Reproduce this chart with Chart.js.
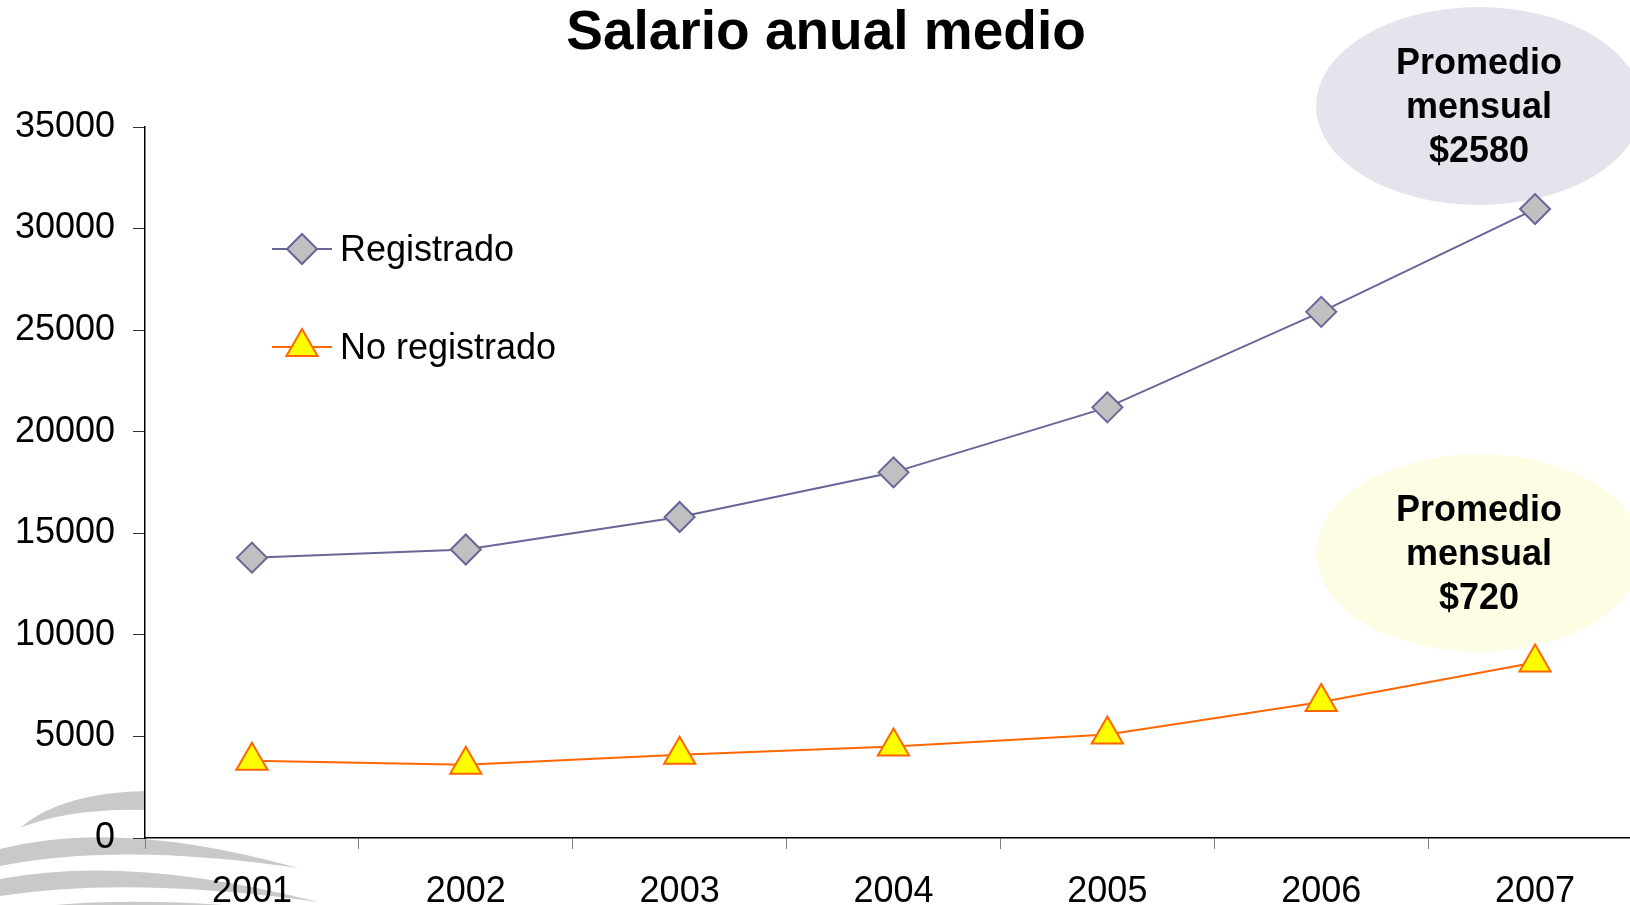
<!DOCTYPE html>
<html>
<head>
<meta charset="utf-8">
<script src="https://cdn.jsdelivr.net/npm/chart.js@4.4.1/dist/chart.umd.min.js"></script>
<style>
    html, body { margin: 0; padding: 0; background: #fff; overflow: hidden; }
    #wrap { position: relative; width: 1662px; height: 905px; }
</style>
</head>
<body>
<div id="wrap"><canvas id="chart"></canvas></div>
<script>
// Datos
const years = ['2001', '2002', '2003', '2004', '2005', '2006', '2007'];
const registrado = [13800, 14200, 15800, 18000, 21200, 25900, 30960];
const noRegistrado = [3800, 3600, 4100, 4500, 5100, 6700, 8640];
const seriesNames = ['Registrado', 'No registrado'];
const titleText = 'Salario anual medio';
const notaRegistrado = ['Promedio', 'mensual', '$2580'];
const notaNoRegistrado = ['Promedio', 'mensual', '$720'];

const FONT = '"Liberation Sans", Arial, sans-serif';

function drawMarker(ctx, style, x, y, r, fill, stroke) {
    ctx.save();
    ctx.beginPath();
    if (style === 'rectRot') {
        ctx.moveTo(x, y - r);
        ctx.lineTo(x + r, y);
        ctx.lineTo(x, y + r);
        ctx.lineTo(x - r, y);
    } else {
        ctx.moveTo(x, y - r);
        ctx.lineTo(x + r * 0.866, y + r / 2);
        ctx.lineTo(x - r * 0.866, y + r / 2);
    }
    ctx.closePath();
    ctx.fillStyle = fill;
    ctx.fill();
    ctx.lineWidth = 2;
    ctx.strokeStyle = stroke;
    ctx.stroke();
    ctx.restore();
}

// Logo de fondo, titulo y globos
const decoraciones = {
    id: 'decoraciones',
    beforeDraw(chart) {
        const ctx = chart.ctx;
        ctx.save();
        ctx.fillStyle = '#c9c9c9';
        ctx.beginPath();
        ctx.moveTo(20, 828);
        ctx.quadraticCurveTo(60, 793, 145, 791);
        ctx.lineTo(145, 810);
        ctx.quadraticCurveTo(70, 808, 20, 828);
        ctx.closePath();
        ctx.fill();
        ctx.beginPath();
        ctx.moveTo(0, 849);
        ctx.quadraticCurveTo(120, 818, 298, 868);
        ctx.quadraticCurveTo(120, 842, 0, 866);
        ctx.closePath();
        ctx.fill();
        ctx.beginPath();
        ctx.moveTo(0, 879);
        ctx.quadraticCurveTo(130, 854, 318, 902);
        ctx.quadraticCurveTo(130, 876, 0, 896);
        ctx.closePath();
        ctx.fill();
        ctx.beginPath();
        ctx.moveTo(0, 912);
        ctx.quadraticCurveTo(130, 890, 320, 915);
        ctx.closePath();
        ctx.fill();
        ctx.restore();

        ctx.save();
        ctx.fillStyle = '#000';
        ctx.font = 'bold 55px ' + FONT;
        ctx.textAlign = 'center';
        ctx.textBaseline = 'alphabetic';
        ctx.fillText(titleText, 826, 49);
        ctx.restore();
    },
    beforeDatasetsDraw(chart) {
        const ctx = chart.ctx;
        const globos = [
            { cx: 1479, cy: 106, lineas: notaRegistrado, color: '#e4e4ec' },
            { cx: 1479, cy: 553, lineas: notaNoRegistrado, color: '#fdfde6' }
        ];
        globos.forEach(g => {
            ctx.save();
            ctx.beginPath();
            ctx.ellipse(g.cx, g.cy, 163, 99, 0, 0, Math.PI * 2);
            ctx.fillStyle = g.color;
            ctx.fill();
            ctx.fillStyle = '#000';
            ctx.font = 'bold 36px ' + FONT;
            ctx.textAlign = 'center';
            ctx.textBaseline = 'middle';
            g.lineas.forEach((t, i) => {
                ctx.fillText(t, g.cx, g.cy - 42 + i * 44);
            });
            ctx.restore();
        });
    },
    afterDraw(chart) {
        // Leyenda dentro del grafico
        const ctx = chart.ctx;
        const filas = [249, 347];
        chart.data.datasets.forEach((ds, i) => {
            const y = filas[i];
            ctx.save();
            ctx.strokeStyle = ds.borderColor;
            ctx.lineWidth = 2;
            ctx.beginPath();
            ctx.moveTo(272, y);
            ctx.lineTo(332, y);
            ctx.stroke();
            drawMarker(ctx, ds.pointStyle, 302, y, ds.pointRadius,
                ds.pointBackgroundColor, ds.pointBorderColor);
            ctx.fillStyle = '#000';
            ctx.font = '36px ' + FONT;
            ctx.textAlign = 'left';
            ctx.textBaseline = 'middle';
            ctx.fillText(ds.label, 340, y + 2);
            ctx.restore();
        });
    }
};

new Chart(document.getElementById('chart'), {
    type: 'line',
    data: {
        labels: years,
        datasets: [{
            label: seriesNames[0],
            data: registrado,
            borderColor: '#666699',
            borderWidth: 2,
            pointStyle: 'rectRot',
            pointRadius: 15,
            pointBackgroundColor: '#c0c0c0',
            pointBorderColor: '#666699',
            pointBorderWidth: 2,
            tension: 0
        }, {
            label: seriesNames[1],
            data: noRegistrado,
            borderColor: '#ff6600',
            borderWidth: 2,
            pointStyle: 'triangle',
            pointRadius: 18,
            pointBackgroundColor: '#ffff00',
            pointBorderColor: '#ff6600',
            pointBorderWidth: 2,
            tension: 0
        }]
    },
    options: {
        responsive: true,
        maintainAspectRatio: false,
        animation: false,
        layout: { padding: { top: 127, left: 0, right: 0, bottom: 0 } },
        plugins: {
            legend: { display: false },
            title: { display: false },
            tooltip: { enabled: false }
        },
        scales: {
            x: {
                offset: true,
                afterFit(scale) { scale.height = 67; },
                grid: {
                    offset: true,
                    drawOnChartArea: false,
                    drawTicks: true,
                    tickLength: 11,
                    color: '#808080'
                },
                border: { color: '#000', width: 1.5 },
                ticks: {
                    color: '#000',
                    font: { family: FONT, size: 36 },
                    padding: 21,
                    maxRotation: 0
                }
            },
            y: {
                min: 0,
                max: 35000,
                afterFit(scale) { scale.width = 145; },
                grid: {
                    drawOnChartArea: false,
                    drawTicks: true,
                    tickLength: 12,
                    color: '#333'
                },
                border: { color: '#000', width: 1.5 },
                ticks: {
                    stepSize: 5000,
                    color: '#000',
                    font: { family: FONT, size: 36 },
                    padding: 18,
                    callback: v => String(v)
                }
            }
        }
    },
    plugins: [decoraciones]
});
</script>
</body>
</html>
